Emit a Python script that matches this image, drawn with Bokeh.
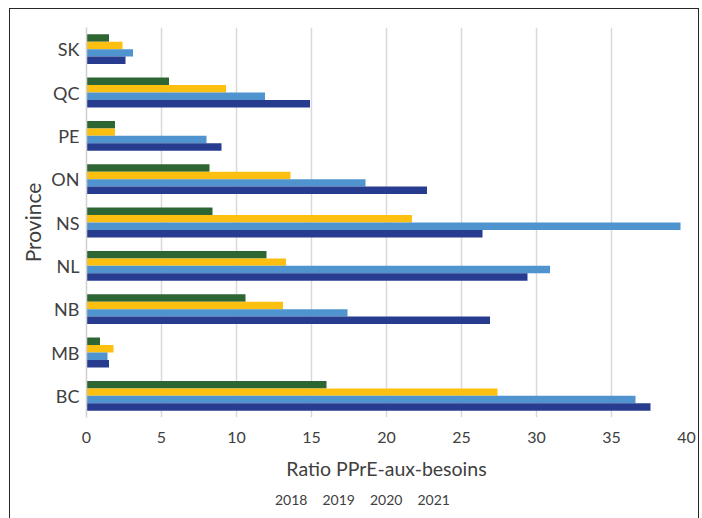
from bokeh.plotting import figure
from bokeh.layouts import column
from bokeh.models import (FactorRange, Range1d, SingleIntervalTicker, Legend, LegendItem,
                          ColumnDataSource)
from bokeh.transform import dodge
from bokeh.embed import file_html
from bokeh.resources import INLINE

# Provinces listed bottom to top
provinces = ["BC", "MB", "NB", "NL", "NS", "ON", "PE", "QC", "SK"]
years = ["2018", "2019", "2020", "2021"]

ratio_2018 = [16.0, 0.9, 10.6, 12.0, 8.4, 8.2, 1.9, 5.5, 1.5]
ratio_2019 = [27.4, 1.8, 13.1, 13.3, 21.7, 13.6, 1.9, 9.3, 2.4]
ratio_2020 = [36.6, 1.4, 17.4, 30.9, 39.6, 18.6, 8.0, 11.9, 3.1]
ratio_2021 = [37.6, 1.5, 26.9, 29.4, 26.4, 22.7, 9.0, 14.9, 2.6]

colors = ["#2e6633", "#fdc010", "#4f94cf", "#283c8f"]
series = [ratio_2018, ratio_2019, ratio_2020, ratio_2021]

source = ColumnDataSource(dict(province=provinces, **{f"y{y}": s for y, s in zip(years, series)}))

FONT = "Lato"
TEXT = "#404040"

# main bar chart
p = figure(frame_width=600, frame_height=390,
           y_range=FactorRange(*provinces), x_range=Range1d(0, 40),
           output_backend="svg", toolbar_location=None,
           min_border_left=76, min_border_right=12,
           min_border_top=18, min_border_bottom=66)

bar_h = 0.172
offsets = [1.5 * bar_h, 0.5 * bar_h, -0.5 * bar_h, -1.5 * bar_h]
for year, col, off in zip(years, colors, offsets):
    p.hbar(y=dodge("province", off, range=p.y_range), right=f"y{year}", left=0,
           height=bar_h, source=source, fill_color=col, line_color=None)

p.xaxis.ticker = SingleIntervalTicker(interval=5)
p.xaxis.axis_label = "Ratio PPrE-aux-besoins"
p.yaxis.axis_label = "Province"
for ax in (p.xaxis, p.yaxis):
    ax.major_tick_line_color = None
    ax.minor_tick_line_color = None
    ax.major_label_text_font = FONT
    ax.major_label_text_color = TEXT
    ax.axis_label_text_font = FONT
    ax.axis_label_text_color = TEXT
    ax.axis_label_text_font_style = "normal"
p.xaxis.axis_label_text_font_size = "19.5px"
p.yaxis.axis_label_text_font_size = "21px"
p.xaxis.axis_line_color = None
p.yaxis.axis_line_color = "#d0d0d0"
p.yaxis.axis_line_width = 1.5
p.xaxis.major_label_text_font_size = "16px"
p.yaxis.major_label_text_font_size = "18px"
p.xaxis.major_label_standoff = 8
p.xaxis.axis_label_standoff = 11
p.yaxis.major_label_standoff = 1
p.yaxis.axis_label_standoff = 3

p.xgrid.grid_line_color = "#d9d9d9"
p.xgrid.grid_line_width = 1.5
p.ygrid.grid_line_color = None
p.outline_line_color = None

# legend strip under the chart
leg = figure(frame_width=688, frame_height=35,
             x_range=Range1d(0, 1), y_range=Range1d(0, 1),
             output_backend="svg", toolbar_location=None,
             x_axis_location=None, y_axis_location=None,
             min_border_left=0, min_border_right=0,
             min_border_top=0, min_border_bottom=0)
leg.grid.visible = False
leg.outline_line_color = None
swatches = [leg.hbar(y=[], right=[], left=0, height=0.1, fill_color=col, line_color=None)
            for col in colors]

legend = Legend(items=[LegendItem(label=y, renderers=[r]) for y, r in zip(years, swatches)],
                orientation="horizontal", location=(256, 10),
                border_line_color=None, background_fill_alpha=0,
                label_text_font=FONT, label_text_font_size="14px", label_text_color=TEXT,
                glyph_width=7, glyph_height=10, label_standoff=2, spacing=6,
                padding=0, margin=0)
leg.add_layout(legend)

# thin box, open at the bottom, around the whole chart
layout = column(p, leg, spacing=0,
                styles={"margin-left": "9px", "margin-top": "8px",
                        "border-left": "1px solid #262626",
                        "border-top": "1px solid #262626",
                        "border-right": "1px solid #262626"})

open("out.html", "w").write(file_html(layout, INLINE))
